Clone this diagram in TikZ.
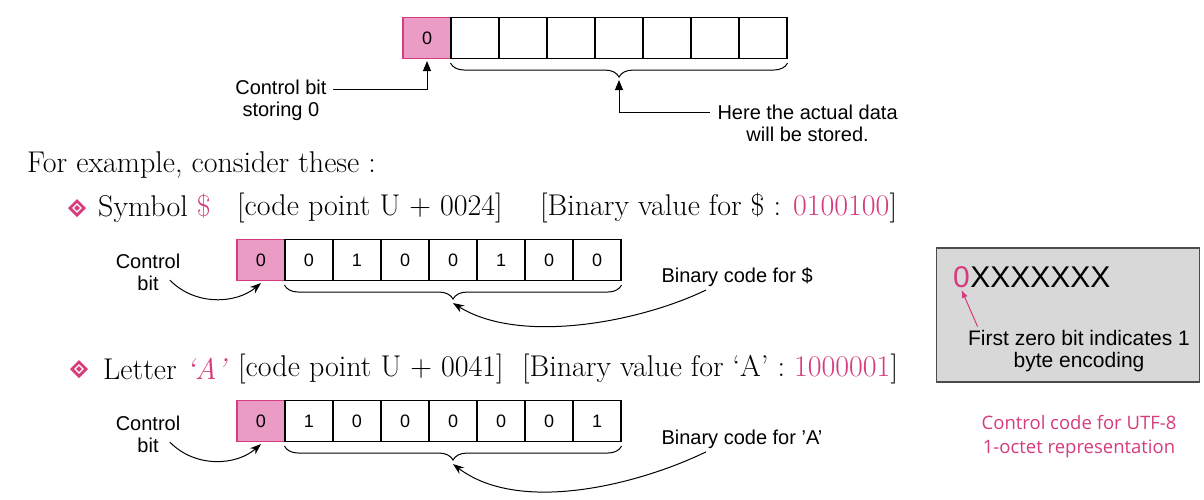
\documentclass[tikz,border=0pt]{standalone}
\usepackage{fontspec}
\setsansfont{Liberation Sans}
\newfontfamily\captionfont{Open Sans}
\usetikzlibrary{arrows.meta,decorations.pathreplacing,positioning}
\definecolor{bitpink}{RGB}{214,60,125}
\definecolor{bitfill}{RGB}{234,156,196}
\definecolor{boxgray}{RGB}{216,216,216}
\tikzset{
  cell/.style={draw,line width=1.1pt,minimum width=48pt,minimum height=41pt,inner sep=0pt,font=\sffamily\fontsize{18}{20}\selectfont},
  ctrlcell/.style={cell,fill=bitfill,draw=bitpink},
  note/.style={font=\sffamily\fontsize{20}{22}\selectfont,align=center},
  body/.style={font=\fontsize{30}{34}\selectfont,anchor=west,inner sep=0pt},
  ptr/.style={line width=1pt,-{Triangle[length=10pt,width=8pt]}},
  curvptr/.style={line width=1pt,-{Stealth[length=11pt,width=8pt]}},
  brace/.style={decorate,decoration={brace,mirror,amplitude=14pt},line width=1pt},
  diamondmark/.pic={
    \fill[bitpink] (-9,0) -- (0,-9) -- (9,0) -- (0,9) -- cycle;
    \draw[white,line width=1.3pt] (-4,0) -- (0,-4) -- (4,0) -- (0,4) -- cycle;
  }
}

\begin{document}
\begin{tikzpicture}[x=1pt,y=-1pt]
  \useasboundingbox (0,0) rectangle (1204,499);

  % general byte: control bit + 7 free bits
  \node[ctrlcell] (t0) at (427,38) {0};
  \foreach \i in {1,...,7}
    \node[cell] (t\i) at ({427+48*\i},38) {};
  \draw[brace] ([yshift=-4pt]t1.south west) -- coordinate (tmid) ([yshift=-4pt]t7.south east);
  \node[note,anchor=east] (ctl) at (330,100) {Control bit\\storing 0};
  \draw[ptr] ([xshift=3pt,yshift=11pt]ctl.east) -| ([yshift=-2pt]t0.south);
  \node[note,anchor=west] (here) at (714,123) {Here the actual data\\will be stored.};
  \draw[ptr] ([xshift=-4pt,yshift=11pt]here.west) -| ([yshift=-17pt]tmid);

  \node[body] (ex) at (27,165) {For example, consider these :};

  % symbol $
  \pic at (77,208) {diamondmark};
  \node[body] (sym) at (98,208) {Symbol \textcolor{bitpink}{\$}};
  \node[body] (symcp) at (237,208) {[code point U + 0024]};
  \node[body] (symbv) at (540,208) {[Binary value for \$ : \textcolor{bitpink}{0100100}]};
  \node[ctrlcell] (s0) at (261,260) {0};
  \foreach \b [count=\i] in {0,1,0,0,1,0,0}
    \node[cell] (s\i) at ({261+48*\i},260) {\b};
  \draw[brace] ([yshift=-4pt]s1.south west) -- coordinate (smid) ([yshift=-4pt]s7.south east);
  \node[note] (scb) at (148,272) {Control\\bit};
  \draw[curvptr] ([xshift=-14pt,yshift=-8pt]scb.east) .. controls (195,306) and (236,304) .. ([yshift=-2pt]s0.south);
  \node[note,anchor=west] (sbc) at (658,277) {Binary code for \$};
  \draw[curvptr] ([xshift=48pt]sbc.south west) .. controls (640,322) and (520,345) .. ([yshift=-18pt]smid);

  % letter A
  \pic at (79,369) {diamondmark};
  \node[body] (let) at (103,369) {Letter \textcolor{bitpink}{\textit{`A'}}};
  \node[body] (letcp) at (238,369) {[code point U + 0041]};
  \node[body] (letbv) at (522,369) {[Binary value for `A' : \textcolor{bitpink}{1000001}]};
  \node[ctrlcell] (a0) at (261,421) {0};
  \foreach \b [count=\i] in {1,0,0,0,0,0,1}
    \node[cell] (a\i) at ({261+48*\i},421) {\b};
  \draw[brace] ([yshift=-4pt]a1.south west) -- coordinate (amid) ([yshift=-4pt]a7.south east);
  \node[note] (acb) at (148,434) {Control\\bit};
  \draw[curvptr] ([xshift=-14pt,yshift=-8pt]acb.east) .. controls (195,468) and (236,466) .. ([yshift=-2pt]a0.south);
  \node[note,anchor=west] (abc) at (658,439) {Binary code for 'A'};
  \draw[curvptr] ([xshift=48pt]abc.south west) .. controls (640,484) and (520,515) .. ([yshift=-18pt]amid);

  % UTF-8 one octet box
  \node[draw=black!70,line width=1.2pt,fill=boxgray,minimum width=263pt,minimum height=134pt] (box) at (1068,315) {};
  \node[font=\sffamily\fontsize{30}{32}\selectfont,text=bitpink,anchor=west,inner sep=0pt] (zero) at (953,277) {0};
  \node[font=\sffamily\fontsize{30}{32}\selectfont,anchor=west,inner sep=0pt] (xs) at (zero.east) {XXXXXXX};
  \node[note,font=\sffamily\fontsize{21}{22}\selectfont] (first) at (1079,351) {First zero bit indicates 1\\byte encoding};
  \draw[bitpink,line width=1pt,-{Latex[length=8pt,width=6pt]}] ([xshift=13pt]first.north west) -- ([yshift=-2pt]zero.south);
  \node[font=\captionfont\fontsize{18.5}{24}\selectfont,text=bitpink,align=center] (cap) at (1079,437) {Control code for UTF-8\\1-octet representation};
\end{tikzpicture}
\end{document}
